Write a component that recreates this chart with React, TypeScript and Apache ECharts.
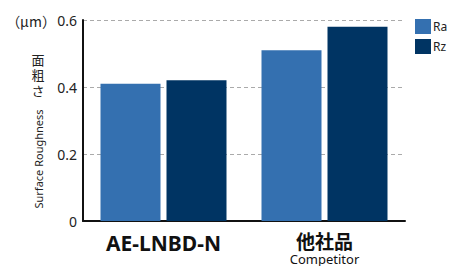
import React, { useEffect, useRef } from "react";
import * as echarts from "echarts";

const categories = ["AE-LNBD-N", "他社品"];
const categorySubLabels = ["", "Competitor"];
const seriesNames = ["Ra", "Rz"];
const ra = [0.41, 0.51];
const rz = [0.42, 0.58];
const yTicks = [0, 0.2, 0.4, 0.6];
const unitLabel = "（μm）";
const axisNameJa = "面\n粗\nさ";
const axisNameEn = "Surface Roughness";

const FONT = "'Noto Sans', 'Noto Sans CJK JP', sans-serif";
const CJK = "'Noto Sans CJK JP', 'Noto Sans', sans-serif";

export default function App() {
  const ref = useRef<HTMLDivElement>(null);
  useEffect(() => {
    if (!ref.current) return;
    const chart = echarts.init(ref.current, null, { renderer: "svg" });
    chart.setOption({
      animation: false,
      textStyle: { fontFamily: FONT },
      grid: { left: 83, right: 46, top: 20, bottom: 45 },
      legend: {
        orient: "vertical",
        left: 415,
        top: 19,
        padding: 0,
        itemWidth: 16,
        itemHeight: 15,
        itemGap: 5,
        icon: "rect",
        textStyle: { fontSize: 12, color: "#222", padding: [0, 0, 0, -3] },
        data: seriesNames,
      },
      xAxis: {
        type: "category",
        data: categories,
        axisLine: { lineStyle: { color: "#111", width: 2 } },
        axisTick: { show: false },
        axisLabel: {
          margin: 9,
          interval: 0,
          formatter: (v: string, i: number) =>
            categorySubLabels[i]
              ? `{b|${v}}\n{c|${categorySubLabels[i]}}`
              : `{a|${v}}`,
          rich: {
            a: { fontSize: 21, fontWeight: "bold", color: "#111", lineHeight: 26, fontFamily: FONT },
            b: { fontSize: 19, fontWeight: "bold", color: "#111", lineHeight: 21, fontFamily: CJK },
            c: { fontSize: 13, color: "#111", lineHeight: 15, fontFamily: FONT },
          },
        },
      },
      yAxis: {
        type: "value",
        min: yTicks[0],
        max: yTicks[yTicks.length - 1],
        interval: 0.2,
        axisLine: { show: true, lineStyle: { color: "#111", width: 2 } },
        axisTick: { show: false },
        axisLabel: {
          fontSize: 14,
          color: "#222",
          margin: 6,
          formatter: (v: number) => (v === 0 ? "0" : v.toFixed(1)),
        },
        splitLine: {
          show: true,
          lineStyle: { color: "#aaa", type: [4, 3], width: 1 },
        },
      },
      series: [
        {
          name: seriesNames[0],
          type: "bar",
          data: ra,
          barWidth: 60,
          barGap: "10%",
          itemStyle: { color: "#3470B0" },
        },
        {
          name: seriesNames[1],
          type: "bar",
          data: rz,
          barWidth: 60,
          barGap: "10%",
          itemStyle: { color: "#003463" },
        },
      ],
      graphic: [
        {
          type: "text",
          x: 31,
          y: 21,
          style: {
            text: unitLabel,
            fontSize: 14,
            fill: "#222",
            fontFamily: CJK,
            align: "center",
            verticalAlign: "middle",
          },
        },
        {
          type: "text",
          x: 38,
          y: 52,
          style: {
            text: axisNameJa,
            fontSize: 13,
            lineHeight: 15.3,
            fill: "#222",
            align: "center",
            verticalAlign: "top",
            fontFamily: CJK,
          },
        },
        {
          type: "text",
          x: 38,
          y: 159,
          rotation: Math.PI / 2,
          style: {
            text: axisNameEn,
            fontSize: 11,
            fill: "#222",
            align: "center",
            verticalAlign: "middle",
            fontFamily: FONT,
          },
        },
      ],
    });
    return () => chart.dispose();
  }, []);
  return <div ref={ref} style={{ width: 451, height: 266, position: "absolute", left: 0, top: 0 }} />;
}
